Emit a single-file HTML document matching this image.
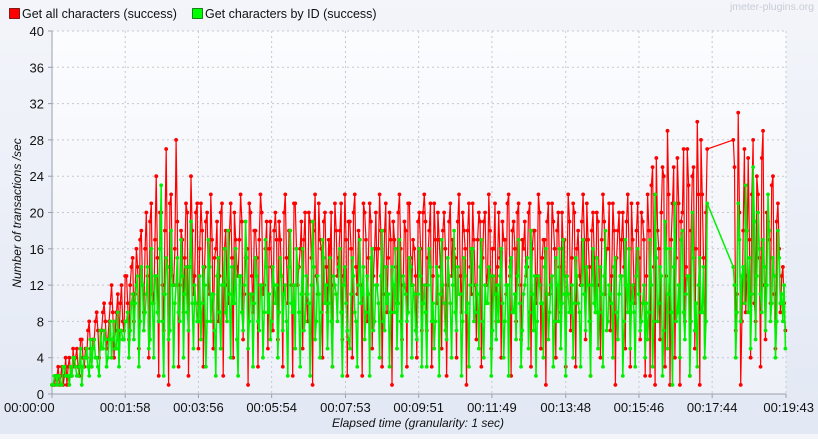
<!DOCTYPE html>
<html><head><meta charset="utf-8"><style>
html,body{margin:0;padding:0;}
body{width:818px;height:434px;overflow:hidden;background:linear-gradient(#f3f5fa,#e2e8f4);font-family:"Liberation Sans",sans-serif;}
</style></head><body>
<svg id="chart" width="818" height="434" xmlns="http://www.w3.org/2000/svg" font-family="Liberation Sans, sans-serif">
<defs><linearGradient id="pg" x1="0" y1="0" x2="0" y2="1"><stop offset="0" stop-color="#fbfcfe"/><stop offset="1" stop-color="#eef1f8"/></linearGradient></defs>
<g>
<rect x="9.5" y="8.5" width="10" height="10" fill="#ff0000" stroke="#600" stroke-width="0.8"/>
<text x="22" y="18" font-size="12.5" fill="#111">Get all characters (success)</text>
<rect x="192.5" y="8.5" width="10" height="10" fill="#00ff00" stroke="#060" stroke-width="0.8"/>
<text x="205" y="18" font-size="12.5" fill="#111">Get characters by ID (success)</text>
</g>
<text x="814" y="10" font-size="10.5" fill="#c8ccd6" text-anchor="end">jmeter-plugins.org</text>
<rect x="52" y="31" width="734" height="363" fill="url(#pg)"/>
<g id="grid"></g><g id="axes"></g><g id="series"></g>
<text transform="translate(21,213) rotate(-90)" font-size="12" font-style="italic" text-anchor="middle" fill="#111">Number of transactions /sec</text>
<text x="418" y="427" font-size="12" font-style="italic" text-anchor="middle" fill="#111">Elapsed time (granularity: 1 sec)</text>
</svg>
<script>
const yTicks=[0,4,8,12,16,20,24,28,32,36,40];
const xTickSecs=[0,118,236,354,473,591,709,828,946,1064,1183];
const xTickLabels=["00:00:00","00:01:58","00:03:56","00:05:54","00:07:53","00:09:51","00:11:49","00:13:48","00:15:46","00:17:44","00:19:43"];
const redMain=[1,1,2,1,3,2,1,4,2,3,5,2,6,3,4,8,3,6,9,4,7,10,5,8,12,4,9,6,12,7,
13,6,14,8,16,5,18,9,20,4,21,10,24,2,20,7,27,1,22,12,28,3,18,9,21,2,24,11,20,5,
21,3,19,12,22,5,16,8,20,2,18,10,21,4,17,13,22,6,15,1,20,9,18,3,22,11,16,5,19,7,
20,6,17,3,22,10,18,2,21,12,16,5,20,8,19,1,22,11,17,4,20,9,15,3,21,13,18,6,22,2,
19,4,22,11,17,2,20,8,21,5,16,12,22,3,18,9,20,1,17,10,22,6,19,3,21,12,16,4,20,7,
22,7,18,3,21,10,17,5,20,2,19,13,16,4,22,9,18,1,21,11,17,6,20,3,19,12,22,5,16,8,
20,4,17,11,22,2,19,8,21,6,16,13,20,3,18,10,22,5,17,1,21,12,19,4,20,9,16,3,22,7,
21,3,18,12,22,6,17,2,20,9,19,4,22,11,16,7,21,1,18,13,20,5,22,3,17,10,21,6,19,2,
22,2,25,1,18,6,25,3,29,1,21,4,26,1,20,8,27,2,24,5,30,1,22,4,27];
const redMainB=[1,2,3,2,1,4,3,2,5,4,3,6,4,5,7,5,6,8,7,5,9,8,6,10,9,7,11,10,8,13,
10,12,15,11,14,17,12,16,13,19,11,17,15,20,12,18,14,21,13,16,19,12,17,15,20,14,18,13,21,16,
18,14,20,11,17,15,19,13,21,16,12,18,15,20,14,17,19,11,16,21,13,18,15,17,20,12,19,16,14,18,
17,19,13,20,15,18,12,21,16,14,19,17,11,20,15,18,13,21,16,19,14,17,20,12,18,15,21,13,17,19,
16,20,14,18,12,21,17,15,19,13,20,16,18,11,21,15,17,19,14,20,16,12,18,21,15,17,13,19,16,20,
19,15,21,13,17,20,14,18,16,12,21,17,15,19,13,20,16,18,14,21,12,17,19,15,20,13,18,16,21,14,
15,19,17,21,13,18,16,20,12,17,19,14,21,16,18,13,20,15,17,19,11,21,16,18,14,20,17,13,19,15,
20,16,13,19,17,21,14,18,15,20,12,17,19,16,21,13,18,15,20,17,14,19,16,21,12,18,15,20,17,13,
18,23,14,26,16,20,24,13,22,17,25,15,21,19,27,14,23,18,25,16,22,28,15,20,24];
const greenMain=[1,2,1,2,1,3,2,1,2,4,2,3,1,4,5,2,3,6,4,2,5,7,3,6,4,8,5,3,7,6,
8,4,10,6,12,3,14,7,11,5,16,4,13,8,23,2,15,6,18,3,12,9,17,4,14,7,19,5,10,8,
6,14,3,17,8,11,2,15,5,12,9,18,4,10,16,2,13,7,19,5,11,3,15,8,12,4,17,9,6,14,
10,4,15,7,12,2,18,9,5,14,3,16,8,11,2,19,6,13,4,17,10,5,15,3,12,8,16,2,14,7,
5,15,9,3,17,11,6,13,2,16,8,12,4,18,7,10,3,14,9,5,17,2,12,8,15,4,11,6,16,3,
12,3,16,8,5,14,2,17,10,6,13,4,18,7,11,2,15,9,3,16,8,12,5,17,4,10,14,2,13,6,
8,16,4,12,2,15,9,6,17,3,11,14,5,18,7,2,13,10,4,16,6,12,3,15,8,5,17,2,11,9,
4,15,10,3,17,7,12,2,16,9,5,14,3,18,8,11,4,15,6,13,2,17,9,5,12,3,16,7,10,4,
6,17,3,22,8,14,2,19,5,16,1,21,9,4,18,6,13,2,20,7,3,15,9,4,21];
const greenMainB=[1,2,2,1,3,2,2,3,4,3,2,5,3,4,3,6,5,4,3,7,5,6,4,8,6,5,9,7,6,8,
9,7,11,10,13,8,12,9,14,6,10,13,9,16,8,11,14,7,12,10,15,8,13,11,9,14,10,12,8,13,
10,12,8,14,11,7,13,9,12,16,8,11,14,10,6,13,9,12,15,8,11,10,13,7,12,9,14,11,8,12,
12,9,13,11,8,14,10,12,16,9,11,7,13,10,12,14,8,11,9,15,12,10,8,13,11,14,9,12,10,6,
11,13,8,12,10,14,9,11,15,7,12,10,13,8,14,11,9,12,16,10,8,13,11,9,14,12,7,11,13,10,
9,12,14,10,8,13,11,12,7,15,10,12,9,14,11,8,13,10,12,16,9,11,14,8,12,10,13,7,11,12,
13,10,8,12,14,9,11,13,10,7,12,15,9,11,13,8,12,10,14,11,9,13,8,12,16,10,11,13,9,12,
10,13,9,12,11,14,8,12,10,15,9,11,13,7,12,10,14,9,11,13,8,12,16,10,9,13,11,8,12,10,
9,12,8,15,10,13,7,16,11,9,14,8,12,17,9,11,13,8,15,10,12,9,14,8,11];
const redLate=[28,7,31,1,18,9,26,4,28,8,22,3,29,6,19,10,24,5,21,9,14,7];
const redLateB=[25,11,20,8,27,13,17,22,10,24,15,26,12,20,17,23,11,19,16,13,10,8];
const greenLate=[14,4,21,8,14,23,9,5,25,6,20,11,17,7,22,8,15,4,18,10,8,5];
const greenLateB=[12,9,17,13,10,18,15,11,19,13,16,9,14,12,18,10,13,8,15,11,12,9];
const mainStart=0, lateStart=1098, step=4, maxSec=1183, maxY=40;
const X0=52,X1=786,Y0=394,Y1=31;
const xs=t=>X0+(t/maxSec)*(X1-X0);
const ys=v=>Y0-(v/maxY)*(Y0-Y1);
const NS="http://www.w3.org/2000/svg";
function mk(tag,attrs,parent){const e=document.createElementNS(NS,tag);for(const k in attrs)e.setAttribute(k,attrs[k]);parent.appendChild(e);return e;}
const grid=document.getElementById('grid'),axes=document.getElementById('axes'),ser=document.getElementById('series');
yTicks.forEach(v=>{
  if(v>0){const g=mk('line',{x1:X0,x2:X1,y1:ys(v),y2:ys(v),stroke:'#c4c8d0','stroke-dasharray':'2,3'},grid);
  
  }
  const t=mk('text',{x:44,y:ys(v)+5,'font-size':13,'text-anchor':'end',fill:'#111'},axes);t.textContent=v;
  
  
  mk('line',{x1:X0-4,x2:X0,y1:ys(v),y2:ys(v),stroke:'#9aa0ac'},axes);
});
xTickSecs.forEach((s,i)=>{
  const x=xs(s);
  if(i>0){const g=mk('line',{x1:x,x2:x,y1:Y1,y2:Y0,stroke:'#c4c8d0','stroke-dasharray':'2,3'},grid);
  
  }
  mk('line',{x1:x,x2:x,y1:Y0,y2:Y0+4,stroke:'#9aa0ac'},axes);
  let lx=x, anchor='middle';
  if(i===0){lx=4;anchor='start';}
  if(i===xTickLabels.length-1){lx=814;anchor='end';}
  const t=mk('text',{x:lx,y:412,'font-size':13,'text-anchor':anchor,fill:'#111'},axes);t.textContent=xTickLabels[i];
  
  
});
mk('line',{x1:X0,x2:X0,y1:Y1,y2:Y0,stroke:'#9aa0ac'},axes);
mk('line',{x1:X0,x2:X1,y1:Y0,y2:Y0,stroke:'#9aa0ac'},axes);
function series(mainA,mainB,lateA,lateB,color,name,sw){
  const pts=[];
  mainA.forEach((v,i)=>{
    pts.push([xs(mainStart+i*step),ys(v)]);
    if(i<mainB.length && i<mainA.length-1) pts.push([xs(mainStart+i*step+step/2),ys(mainB[i])]);
  });
  lateA.forEach((v,i)=>{
    pts.push([xs(lateStart+i*step),ys(v)]);
    if(i<lateB.length && i<lateA.length-1) pts.push([xs(lateStart+i*step+step/2),ys(lateB[i])]);
  });
  const g=mk('g',{},ser);
  
  
  const p=mk('polyline',{points:pts.map(p=>p[0].toFixed(1)+','+p[1].toFixed(1)).join(' '),fill:'none',stroke:color,'stroke-width':sw},g);
  
  
  pts.forEach(q=>{const c=mk('circle',{cx:q[0],cy:q[1],r:1.9,fill:color},g);
    
    });
}
series(redMain,redMainB,redLate,redLateB,'#ff0000','series-get-all-characters',1.2);
series(greenMain,greenMainB,greenLate,greenLateB,'#00f000','series-get-characters-by-id',1.5);
</script>
</body></html>
